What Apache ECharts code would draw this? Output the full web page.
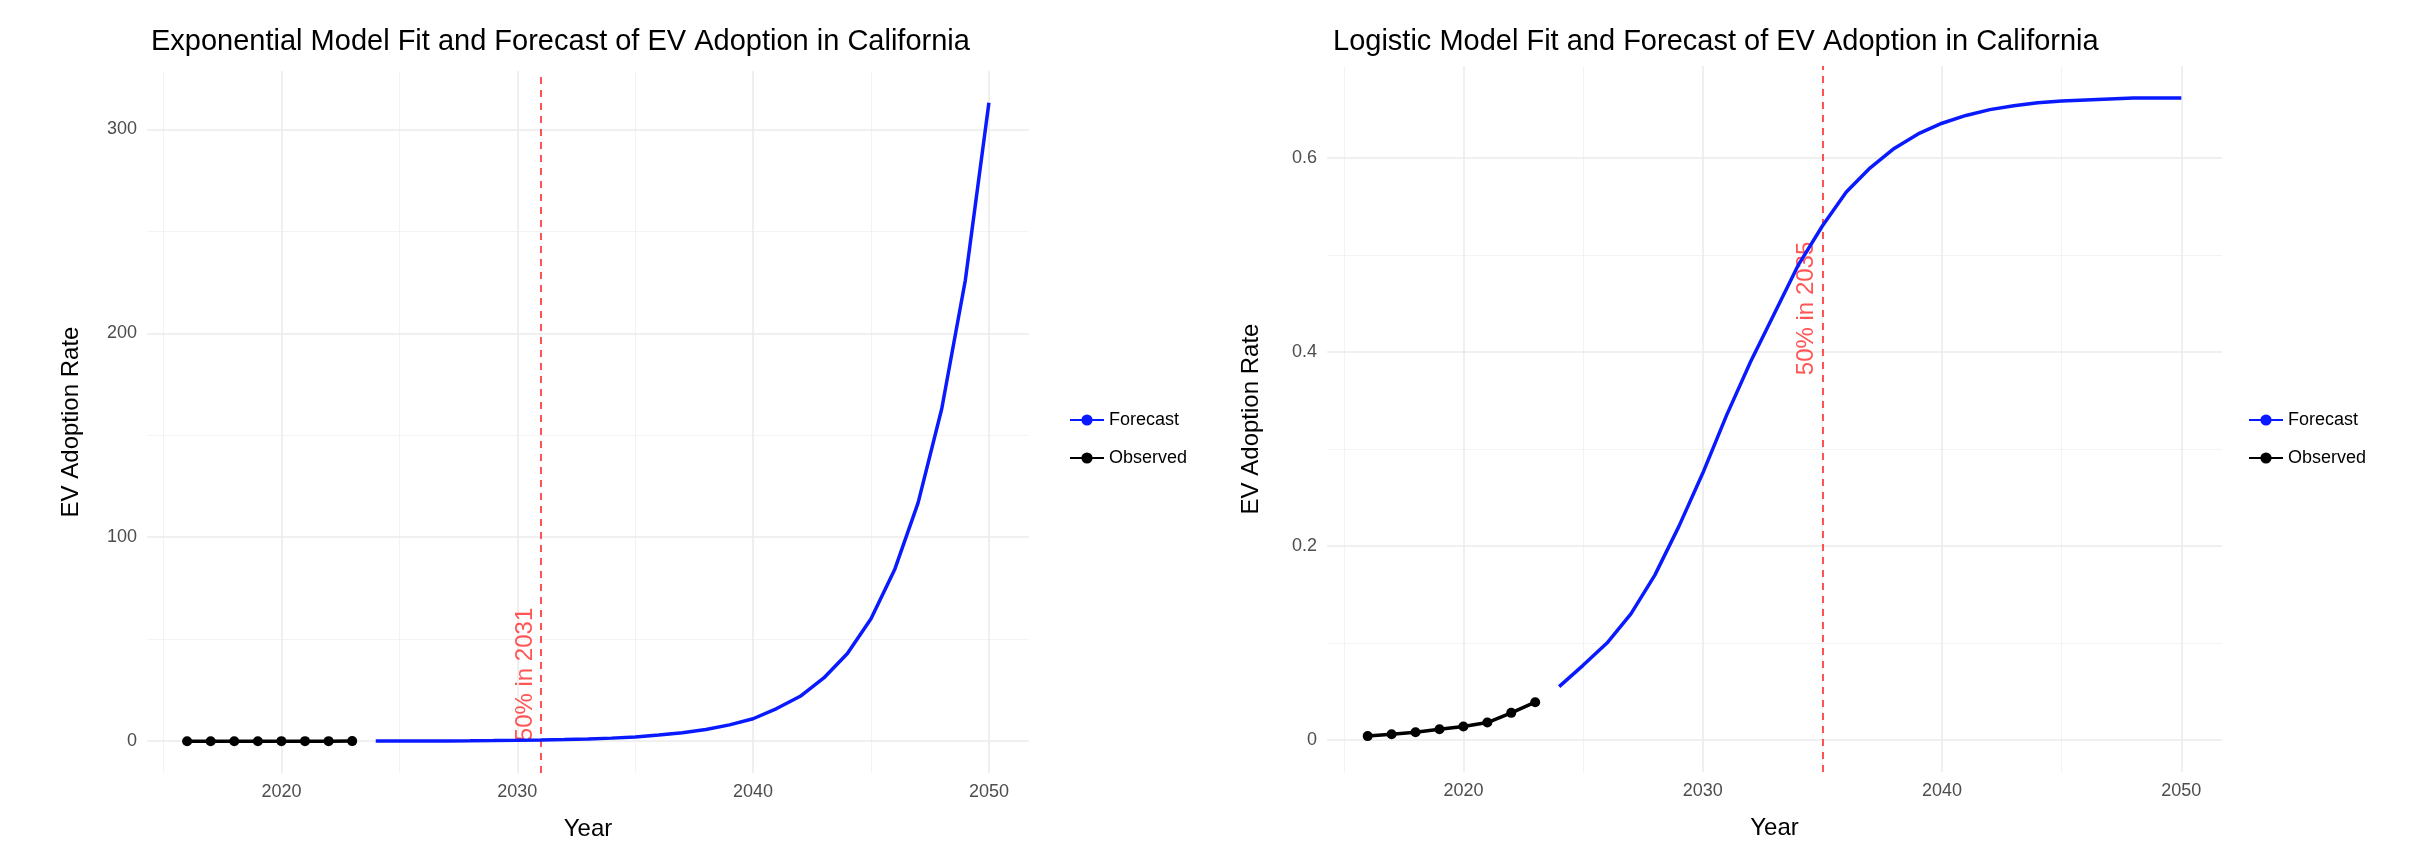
<!DOCTYPE html>
<html>
<head>
<meta charset="UTF-8">
<title>EV Adoption in California</title>
<script src="https://cdn.jsdelivr.net/npm/echarts@6/dist/echarts.min.js"></script>
<style>html,body{margin:0;background:#fff}#chart{width:2426px;height:852px}</style>
</head>
<body>
<div id="chart"></div>
<script type="text/javascript">
// observed years and rates
var obsYears = [2016, 2017, 2018, 2019, 2020, 2021, 2022, 2023];
var obsRate = [0.004, 0.006, 0.008, 0.011, 0.014, 0.018, 0.028, 0.039];
// forecast years
var fcYears = [2024, 2025, 2026, 2027, 2028, 2029, 2030, 2031, 2032, 2033, 2034, 2035, 2036, 2037,
    2038, 2039, 2040, 2041, 2042, 2043, 2044, 2045, 2046, 2047, 2048, 2049, 2050];
// exponential model forecast
var expForecast = [0.06, 0.08, 0.11, 0.15, 0.21, 0.29, 0.41, 0.57, 0.8, 1.1, 1.5, 2.1, 3.0, 4.1,
    5.7, 8.0, 11, 16, 22, 31, 43, 60, 84, 117, 163, 226, 313];
// logistic model forecast
var logForecast = [0.055, 0.077, 0.10, 0.13, 0.17, 0.22, 0.275, 0.335, 0.39, 0.44, 0.49, 0.53, 0.565, 0.59,
    0.61, 0.625, 0.636, 0.644, 0.65, 0.654, 0.657, 0.659, 0.66, 0.661, 0.662, 0.662, 0.662];
var xMajor = [2020, 2030, 2040, 2050];
var xMinor = [2015, 2025, 2035, 2045];
var expMajor = [0, 100, 200, 300];
var expMinor = [50, 150, 250];
var logMajor = [0, 0.2, 0.4, 0.6];
var logMinor = [0.1, 0.3, 0.5];
var expCross = 2031, logCross = 2035;

function pairs(xs, ys) {
    var res = [];
    for (var i = 0; i < xs.length; i++) res.push([xs[i], ys[i]]);
    return res;
}

var font = 'Liberation Sans, Arial, sans-serif';

function gridSeries(idx, yMajor, yMinor) {
    var lines = [];
    xMinor.forEach(function (v) { lines.push({xAxis: v, lineStyle: {color: '#f3f3f3', width: 1}}); });
    yMinor.forEach(function (v) { lines.push({yAxis: v, lineStyle: {color: '#f3f3f3', width: 1}}); });
    xMajor.forEach(function (v) { lines.push({xAxis: v, lineStyle: {color: '#ebebeb', width: 1.6}}); });
    yMajor.forEach(function (v) { lines.push({yAxis: v, lineStyle: {color: '#ebebeb', width: 1.6}}); });
    return {
        type: 'line', xAxisIndex: idx, yAxisIndex: idx, data: [], silent: true, zlevel: 0, z: 0,
        markLine: {silent: true, symbol: 'none', label: {show: false}, lineStyle: {type: 'solid'}, data: lines}
    };
}

function xAxis(idx) {
    return {
        type: 'value', gridIndex: idx, min: 2014.3, max: 2051.7,
        name: 'Year', nameLocation: 'middle', nameGap: 44,
        nameTextStyle: {color: '#000', fontSize: 24, fontFamily: font},
        axisLine: {show: false}, axisTick: {show: false}, splitLine: {show: false},
        axisLabel: {customValues: xMajor, color: '#4d4d4d', fontSize: 18, fontFamily: font, margin: 10,
            formatter: function (v) { return String(v); }}
    };
}

function yAxis(idx, min, max, ticks, gap) {
    return {
        type: 'value', gridIndex: idx, min: min, max: max,
        name: 'EV Adoption Rate', nameLocation: 'middle', nameGap: gap,
        nameTextStyle: {color: '#000', fontSize: 24, fontFamily: font},
        axisLine: {show: false}, axisTick: {show: false}, splitLine: {show: false},
        axisLabel: {customValues: ticks, color: '#4d4d4d', fontSize: 18, fontFamily: font, margin: 10,
            formatter: function (v) { return String(v); }}
    };
}

function seriesFor(idx, fc, cross, labelY, align) {
    return [
        {
            name: 'Forecast', type: 'line', xAxisIndex: idx, yAxisIndex: idx, zlevel: 1,
            data: pairs(fcYears, fc), symbol: 'circle', symbolSize: 9, showSymbol: false,
            lineStyle: {color: '#0a1aff', width: 3.5}, itemStyle: {color: '#0a1aff'}, z: 3,
            markLine: {
                silent: true, symbol: 'none', label: {show: false},
                lineStyle: {color: '#ff2a2a', type: [7, 6], width: 1.6},
                data: [{xAxis: cross}]
            }
        },
        {
            name: 'Observed', type: 'line', xAxisIndex: idx, yAxisIndex: idx, zlevel: 1,
            data: pairs(obsYears, obsRate), symbol: 'circle', symbolSize: 10,
            lineStyle: {color: '#000', width: 3.5}, itemStyle: {color: '#000'}, z: 4
        },
        {
            type: 'scatter', xAxisIndex: idx, yAxisIndex: idx, silent: true, symbolSize: 0, zlevel: 1,
            data: [[cross - 0.65, labelY]],
            label: {show: true, position: 'inside', rotate: 90, align: align, verticalAlign: 'middle',
                formatter: '50% in ' + cross, color: '#ff2a2a', fontSize: 24, fontFamily: font}
        }
    ];
}

var option = {
    animation: false,
    backgroundColor: '#fff',
    title: [
        {text: 'Exponential Model Fit and Forecast of EV Adoption in California', left: 146, top: 22,
            textStyle: {fontSize: 29, fontWeight: 'normal', color: '#000', fontFamily: font}},
        {text: 'Logistic Model Fit and Forecast of EV Adoption in California', left: 1328, top: 22,
            textStyle: {fontSize: 29, fontWeight: 'normal', color: '#000', fontFamily: font}}
    ],
    legend: [
        {left: 1064, top: 406, orient: 'vertical', itemGap: 20, itemWidth: 34, itemHeight: 14,
            data: ['Forecast', 'Observed'], textStyle: {fontSize: 18, color: '#000', fontFamily: font}},
        {left: 2243, top: 406, orient: 'vertical', itemGap: 20, itemWidth: 34, itemHeight: 14,
            data: ['Forecast', 'Observed'], textStyle: {fontSize: 18, color: '#000', fontFamily: font}}
    ],
    grid: [
        {left: 147, right: 1397, top: 71, bottom: 79},
        {left: 1327, right: 204, top: 66, bottom: 80}
    ],
    xAxis: [xAxis(0), xAxis(1)],
    yAxis: [yAxis(0, -15.6, 328.6, expMajor, 64), yAxis(1, -0.033, 0.695, logMajor, 64)],
    series: [gridSeries(0, expMajor, expMinor), gridSeries(1, logMajor, logMinor)]
        .concat(seriesFor(0, expForecast, expCross, 0, 'left'))
        .concat(seriesFor(1, logForecast, logCross, 0.445, 'center'))
};

var myChart = echarts.init(document.getElementById('chart'));
myChart.setOption(option);
</script>
</body>
</html>
